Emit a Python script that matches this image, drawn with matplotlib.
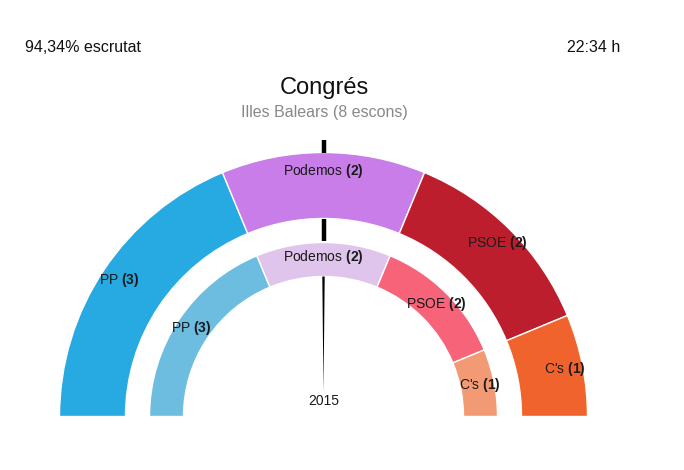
import numpy as np
import matplotlib
matplotlib.use("Agg")
import matplotlib.pyplot as plt
from matplotlib.patches import Wedge, Polygon

plt.rcParams['font.family'] = ['Liberation Sans', 'DejaVu Sans']
plt.rcParams['mathtext.fontset'] = 'custom'
plt.rcParams['mathtext.rm'] = 'Liberation Sans'
plt.rcParams['mathtext.bf'] = 'Liberation Sans:bold'

# data
parties = ["PP", "Podemos", "PSOE", "C's"]
seats_2016 = [3, 2, 2, 1]
seats_2015 = [3, 2, 2, 1]
colors_2016 = ["#27a9e1", "#c87de9", "#bd1e2d", "#f1632d"]
colors_2015 = ["#6dbde1", "#dfc4ec", "#f7647a", "#f29a74"]
scrutinized = "94,34% escrutat"
clock = "22:34 h"
title = "Congrés"
subtitle = "Illes Balears (8 escons)"
inner_label = "2015"

fig = plt.figure(figsize=(6.84, 4.70), dpi=100)
ax = fig.add_axes([0, 0, 1, 1])
ax.set_xlim(0, 684)
ax.set_ylim(0, 470)
ax.axis('off')

cx, cy = 323.5, 53.5


def draw_ring(seats, colors, r_out, width, r_label):
    total = sum(seats)
    edges = 180 - 180 * np.concatenate([[0], np.cumsum(seats)]) / total
    for i in range(len(seats)):
        t1, t2 = edges[i + 1], edges[i]
        ax.add_patch(Wedge((cx, cy), r_out, t1, t2, width=width,
                           facecolor=colors[i], edgecolor='white', linewidth=1))
        mid = np.radians((t1 + t2) / 2)
        ax.text(cx + r_label * np.cos(mid), cy + r_label * np.sin(mid),
                parties[i] + r" $\mathbf{(%d)}$" % seats[i],
                ha='center', va='center', fontsize=10, color='#1a1a1a')


draw_ring(seats_2016, colors_2016, 264, 66, 246)
draw_ring(seats_2015, colors_2015, 174, 34, 159)

# majority marker (half of the seats)
ang = np.radians(180 - 180 * (sum(seats_2016) / 2) / sum(seats_2016))
ux, uy = np.cos(ang), np.sin(ang)
ax.plot([cx + 264 * ux, cx + 277 * ux], [cy + 264 * uy, cy + 277 * uy],
        color='black', lw=3.2, solid_capstyle='butt')
ax.plot([cx + 176 * ux, cx + 198 * ux], [cy + 176 * uy, cy + 198 * uy],
        color='black', lw=3.2, solid_capstyle='butt')
ax.add_patch(Polygon([[cx - 1.2, cy + 140], [cx + 1.2, cy + 140], [cx, cy + 24]],
                     closed=True, facecolor='black', edgecolor='none'))

ax.text(cx, 470 - 401, inner_label, ha='center', va='center', fontsize=10, color='#1a1a1a')

ax.text(25, 470 - 48, scrutinized, ha='left', va='center', fontsize=11.5, color='#111111')
ax.text(620, 470 - 48, clock, ha='right', va='center', fontsize=11.5, color='#111111')
ax.text(324, 470 - 88, title, ha='center', va='center', fontsize=17, color='#111111')
ax.text(324, 470 - 113, subtitle, ha='center', va='center', fontsize=11.5, color='#888888')

fig.savefig("out.png", dpi=100)
